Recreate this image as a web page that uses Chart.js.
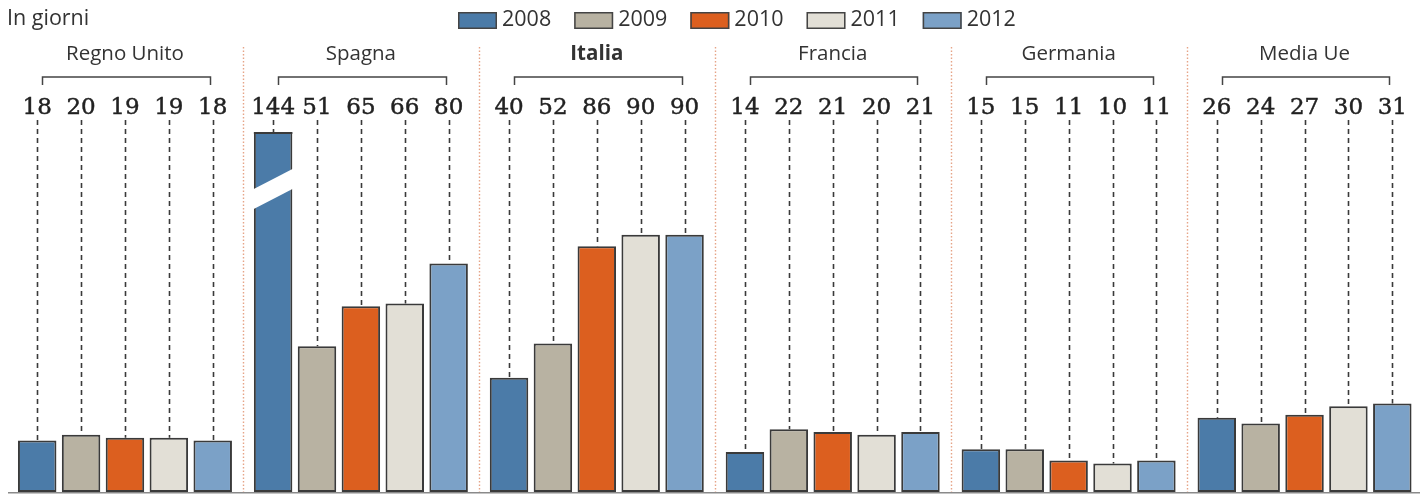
<!DOCTYPE html>
<html lang="it">
<head>
<meta charset="utf-8">
<title>In giorni</title>
<script src="https://cdn.jsdelivr.net/npm/chart.js@4/dist/chart.umd.min.js"></script>
<style>
  html, body { margin: 0; padding: 0; background: #ffffff; }
  #wrap { position: relative; width: 1426px; height: 495px; }
</style>
</head>
<body>
<div id="wrap"><canvas id="chart"></canvas></div>
<script>
// Paesi e anni
const countries = ['Regno Unito', 'Spagna', 'Italia', 'Francia', 'Germania', 'Media Ue'];
const years = ['2008', '2009', '2010', '2011', '2012'];

// Valori per anno (giorni)
const v2008 = [18, 144, 40, 14, 15, 26];
const v2009 = [20, 51, 52, 22, 15, 24];
const v2010 = [19, 65, 86, 21, 11, 27];
const v2011 = [19, 66, 90, 20, 10, 30];
const v2012 = [18, 80, 90, 21, 11, 31];

const unitLabel = 'In giorni';
const highlighted = 'Italia';
const yMax = 126; // values above this are drawn with a break

const colors = ['#4b7ba8', '#b8b2a2', '#dc5f1f', '#e2dfd6', '#7ba1c7'];
const series = [v2008, v2009, v2010, v2011, v2012];

const SANS = '"Open Sans", "DejaVu Sans", sans-serif';
const SERIF = '"DejaVu Serif", serif';

const overlay = {
  id: 'overlay',
  beforeDatasetsDraw(chart) {
    const { ctx, chartArea } = chart;
    const xs = chart.scales.x;
    ctx.save();
    // dotted separators between countries
    ctx.strokeStyle = '#e6a487';
    ctx.lineWidth = 1.4;
    ctx.setLineDash([1.5, 2]);
    for (let i = 1; i < countries.length; i++) {
      const x = Math.round((xs.getPixelForValue(i - 1) + xs.getPixelForValue(i)) / 2) + 0.5;
      ctx.beginPath();
      ctx.moveTo(x, 47);
      ctx.lineTo(x, chartArea.bottom);
      ctx.stroke();
    }
    ctx.setLineDash([]);

    // dashed leaders from value labels to bar tops
    ctx.strokeStyle = '#3a3a3a';
    ctx.lineWidth = 1.6;
    ctx.setLineDash([5, 4]);
    chart.data.datasets.forEach((ds, di) => {
      chart.getDatasetMeta(di).data.forEach((bar) => {
        const top = Math.max(bar.y, chartArea.top);
        ctx.beginPath();
        ctx.moveTo(Math.round(bar.x) + 0.5, 120);
        ctx.lineTo(Math.round(bar.x) + 0.5, top);
        ctx.stroke();
      });
    });
    ctx.setLineDash([]);
    ctx.restore();
  },
  afterDatasetsDraw(chart) {
    const { ctx, chartArea } = chart;
    ctx.save();

    // bars that exceed the scale: top edge and a white slanted break
    chart.data.datasets.forEach((ds, di) => {
      chart.getDatasetMeta(di).data.forEach((bar, i) => {
        if (ds.data[i] <= yMax) return;
        const half = bar.width / 2;
        ctx.fillStyle = '#3a3a3a';
        ctx.fillRect(bar.x - half, chartArea.top, bar.width, 2);
        const cy = chartArea.top + 65;
        ctx.fillStyle = '#ffffff';
        ctx.beginPath();
        ctx.moveTo(bar.x - half - 3, cy - 8 + 1.5);
        ctx.lineTo(bar.x + half + 3, cy - 8 - 21.5);
        ctx.lineTo(bar.x + half + 3, cy - 8 - 21.5 + 20);
        ctx.lineTo(bar.x - half - 3, cy - 8 + 1.5 + 20);
        ctx.closePath();
        ctx.fill();
      });
    });

    // baseline
    ctx.strokeStyle = '#8a8a8a';
    ctx.lineWidth = 1.5;
    ctx.beginPath();
    ctx.moveTo(8, chartArea.bottom + 0.75);
    ctx.lineTo(1420, chartArea.bottom + 0.75);
    ctx.stroke();

    // value labels
    ctx.fillStyle = '#222222';
    ctx.strokeStyle = '#222222';
    ctx.lineWidth = 0.45;
    ctx.font = '23px ' + SERIF;
    ctx.textAlign = 'center';
    ctx.textBaseline = 'middle';
    chart.data.datasets.forEach((ds, di) => {
      chart.getDatasetMeta(di).data.forEach((bar, i) => {
        const txt = String(ds.data[i]);
        ctx.fillText(txt, bar.x, 108);
        ctx.strokeText(txt, bar.x, 108);
      });
    });

    // country names and brackets
    const first = chart.getDatasetMeta(0).data;
    const last = chart.getDatasetMeta(chart.data.datasets.length - 1).data;
    countries.forEach((name, i) => {
      const x0 = Math.round(first[i].x + 5) + 0.5;
      const x1 = Math.round(last[i].x - 3) + 0.5;
      ctx.strokeStyle = '#444444';
      ctx.lineWidth = 1.5;
      ctx.beginPath();
      ctx.moveTo(x0, 85);
      ctx.lineTo(x0, 77);
      ctx.lineTo(x1, 77);
      ctx.lineTo(x1, 85);
      ctx.stroke();
      ctx.fillStyle = '#333333';
      ctx.font = (name === highlighted ? 'bold ' : '') + '20.5px ' + SANS;
      ctx.fillText(name, (first[i].x + last[i].x) / 2, 54);
    });

    // unit label
    ctx.textAlign = 'left';
    ctx.font = '21.5px ' + SANS;
    ctx.fillStyle = '#333333';
    ctx.fillText(unitLabel, 7, 19);

    // legend
    let lx = 458;
    ctx.font = '21.5px ' + SANS;
    chart.data.datasets.forEach((ds) => {
      ctx.fillStyle = ds.backgroundColor;
      ctx.fillRect(lx, 12, 39, 17);
      ctx.strokeStyle = '#444444';
      ctx.lineWidth = 1.5;
      ctx.strokeRect(lx + 0.75, 12.75, 37.5, 15.5);
      ctx.fillStyle = '#333333';
      ctx.fillText(ds.label, lx + 44, 20);
      lx += 44 + ctx.measureText(ds.label).width + 23;
    });
    ctx.restore();
  }
};

new Chart(document.getElementById('chart'), {
  type: 'bar',
  data: {
    labels: countries,
    datasets: years.map((y, k) => ({
      label: y,
      data: series[k],
      backgroundColor: colors[k],
      borderColor: '#3a3a3a',
      borderWidth: 2,
      borderSkipped: false,
      categoryPercentage: 0.93,
      barPercentage: 0.877
    }))
  },
  options: {
    responsive: true,
    maintainAspectRatio: false,
    animation: false,
    layout: { padding: { top: 132, bottom: 3, left: 7, right: 3.5 } },
    scales: {
      x: { display: false },
      y: { display: false, min: 0, max: yMax }
    },
    plugins: {
      legend: { display: false },
      tooltip: { enabled: false }
    }
  },
  plugins: [overlay]
});
</script>
</body>
</html>
